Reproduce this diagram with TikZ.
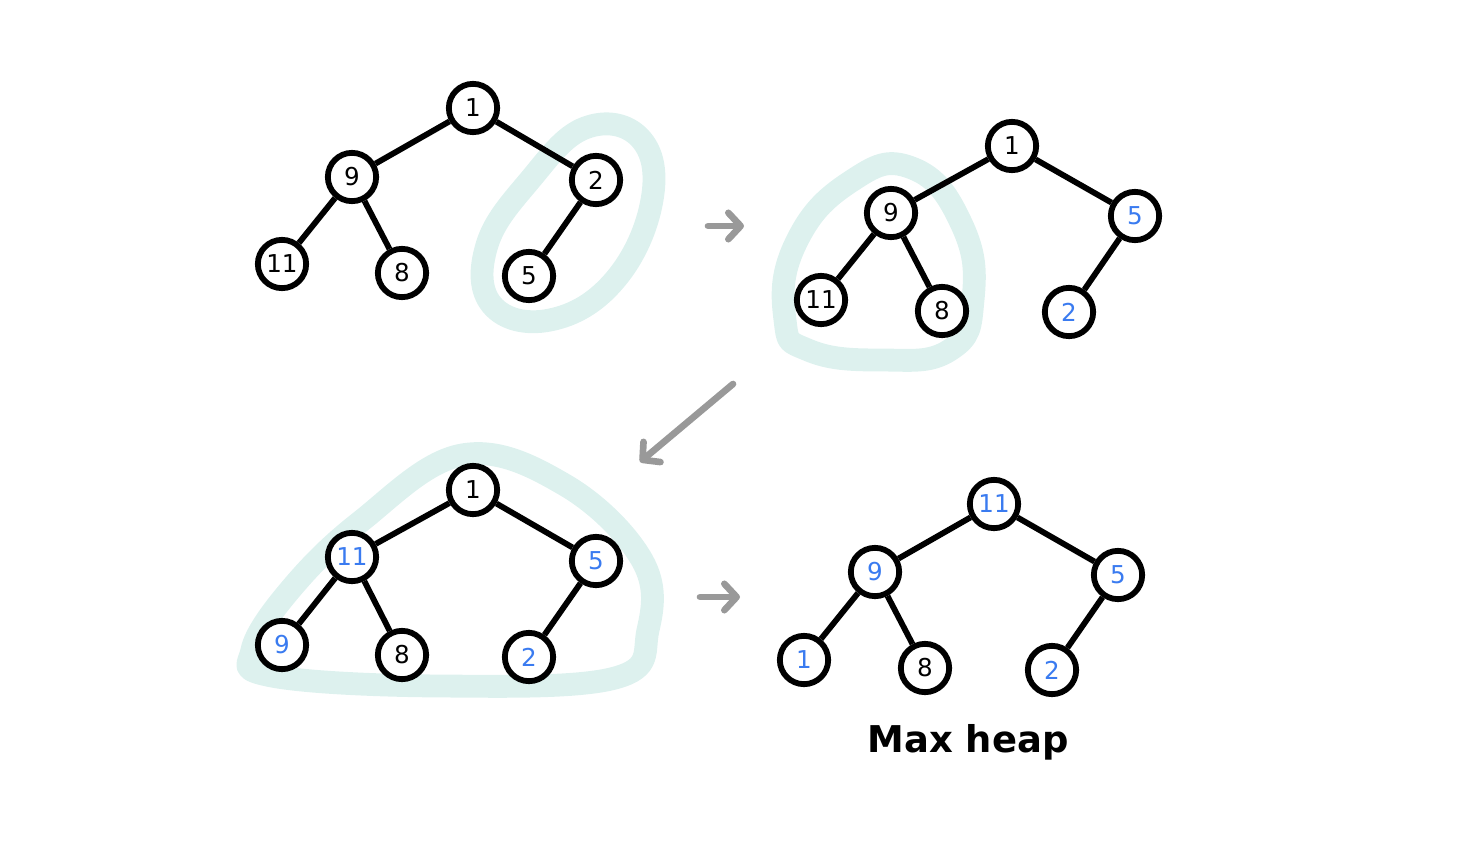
\documentclass[tikz,border=0pt]{standalone}
\usepackage{fontspec}
\setsansfont{DejaVu Sans}
\usetikzlibrary{arrows.meta}
\definecolor{hb}{HTML}{3A7BF0}
\definecolor{hl}{HTML}{DDF1EE}
\definecolor{ag}{HTML}{999999}
\tikzset{
  hnode/.style={circle,draw=black,fill=white,line width=3.3pt,minimum size=27.5pt,inner sep=0pt,font=\sffamily\fontsize{14}{14}\selectfont},
  hedge/.style={line width=3.3pt},
  moved/.style={text=hb},
  glow/.style={hl,line width=13pt,line join=round},
  stepar/.style={ag,line width=3.8pt,line cap=round,-{Straight Barb[length=7pt,width=15pt,line width=3.8pt,round]}}
}
\begin{document}
\begin{tikzpicture}[x=0.02cm,y=-0.02cm]
\useasboundingbox (0,0) rectangle (1471,862);
% highlights
\draw[glow] plot[smooth cycle,tension=0.7] coordinates {(492,305) (487,245) (530,180) (585,128) (640,138) (652,200) (615,280) (550,320)};
\draw[glow] plot[smooth cycle,tension=0.8] coordinates {(785,320) (795,245) (850,182) (912,168) (962,225) (973,300) (950,350) (880,360) (808,350)};
\draw[glow] plot[smooth cycle,tension=0.65] coordinates {(252,650) (290,590) (360,522) (462,455) (565,485) (642,560) (648,630) (615,678) (440,686) (272,676)};
% tree 1
\node[hnode] (a1) at (473,108) {1};
\node[hnode] (a9) at (352,177) {9};
\node[hnode] (a2) at (596,180) {2};
\node[hnode] (a11) at (282,264) {11};
\node[hnode] (a8) at (402,273) {8};
\node[hnode] (a5) at (529,276) {5};
\draw[hedge] (a1) -- (a9);
\draw[hedge] (a1) -- (a2);
\draw[hedge] (a9) -- (a11);
\draw[hedge] (a9) -- (a8);
\draw[hedge] (a2) -- (a5);
% tree 2
\node[hnode] (b1) at (1012,146) {1};
\node[hnode] (b9) at (891,213) {9};
\node[hnode,moved] (b5) at (1135,216) {5};
\node[hnode] (b11) at (821,300) {11};
\node[hnode] (b8) at (942,311) {8};
\node[hnode,moved] (b2) at (1069,312) {2};
\draw[hedge] (b1) -- (b9);
\draw[hedge] (b1) -- (b5);
\draw[hedge] (b9) -- (b11);
\draw[hedge] (b9) -- (b8);
\draw[hedge] (b5) -- (b2);
% tree 3
\node[hnode] (c1) at (473,490) {1};
\node[hnode,moved] (c11) at (352,557) {11};
\node[hnode,moved] (c5) at (596,561) {5};
\node[hnode,moved] (c9) at (282,645) {9};
\node[hnode] (c8) at (402,655) {8};
\node[hnode,moved] (c2) at (529,657) {2};
\draw[hedge] (c1) -- (c11);
\draw[hedge] (c1) -- (c5);
\draw[hedge] (c11) -- (c9);
\draw[hedge] (c11) -- (c8);
\draw[hedge] (c5) -- (c2);
% tree 4
\node[hnode,moved] (d11) at (994,504) {11};
\node[hnode,moved] (d9) at (875,572) {9};
\node[hnode,moved] (d5) at (1118,575) {5};
\node[hnode,moved] (d1) at (804,660) {1};
\node[hnode] (d8) at (925,668) {8};
\node[hnode,moved] (d2) at (1052,670) {2};
\draw[hedge] (d11) -- (d9);
\draw[hedge] (d11) -- (d5);
\draw[hedge] (d9) -- (d1);
\draw[hedge] (d9) -- (d8);
\draw[hedge] (d5) -- (d2);
\node[font=\sffamily\bfseries\fontsize{21}{21}\selectfont] (lbl) at (968,742) {Max heap};
% arrows
\coordinate (p1) at (708,226); \coordinate (q1) at (744,226);
\coordinate (p2) at (733,384); \coordinate (q2) at (640,462);
\coordinate (p3) at (700,597); \coordinate (q3) at (740,597);
\draw[stepar] (p1) -- (q1);
\draw[stepar] (p2) -- (q2);
\draw[stepar] (p3) -- (q3);
\end{tikzpicture}
\end{document}
